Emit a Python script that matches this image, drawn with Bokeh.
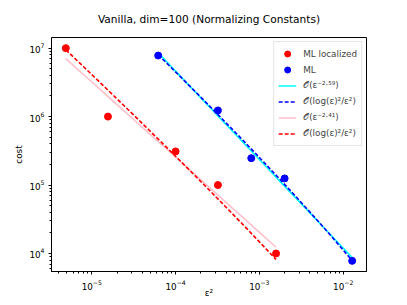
import numpy as np
from bokeh.plotting import figure
from bokeh.models import Range1d, Legend, LegendItem, Title
from bokeh.embed import file_html
from bokeh.resources import INLINE

# ---------------- data ----------------
title_text = "Vanilla, dim=100 (Normalizing Constants)"
x_label = "ε²"
y_label = "cost"

ml_loc_eps2 = [4.9e-6, 1.56e-5, 1.0e-4, 3.2e-4, 1.58e-3]
ml_loc_cost = [1.0e7, 1.0e6, 3.1e5, 1.0e5, 1.0e4]

ml_eps2 = [6.2e-5, 3.2e-4, 8.0e-4, 2.0e-3, 1.28e-2]
ml_cost = [7.8e6, 1.23e6, 2.47e5, 1.25e5, 7.8e3]

legend_labels = ["ML localized", "ML",
                 "𝒪(ε⁻²·⁵⁹)", "𝒪(log(ε)²/ε²)",
                 "𝒪(ε⁻²·⁴¹)", "𝒪(log(ε)²/ε²)"]


# ---------------- fits ----------------
def power_fit(x, y):
    lx, ly = np.log10(x), np.log10(y)
    m, b = np.polyfit(lx, ly, 1)
    xs = np.geomspace(min(x), max(x), 20)
    return xs, 10 ** (b + m * np.log10(xs))


def logsq_fit(x, y):
    x = np.asarray(x, float)
    f = lambda v: np.log(np.sqrt(v)) ** 2 / v
    c = np.mean(np.log10(y) - np.log10(f(x)))
    xs = np.geomspace(x.min(), x.max(), 60)
    return xs, 10 ** c * f(xs)


ml_px, ml_py = power_fit(ml_eps2, ml_cost)
ml_lx, ml_ly = logsq_fit(ml_eps2, ml_cost)
loc_px, loc_py = power_fit(ml_loc_eps2, ml_loc_cost)
loc_lx, loc_ly = logsq_fit(ml_loc_eps2, ml_loc_cost)


def log_range(vals, frac=0.05):
    lv = np.log10(np.asarray(vals, float))
    lo, hi = lv.min(), lv.max()
    pad = frac * (hi - lo)
    return Range1d(10 ** (lo - pad), 10 ** (hi + pad))


x_rng = log_range(ml_loc_eps2 + ml_eps2)
y_rng = log_range(ml_loc_cost + ml_cost)

FONT = "DejaVu Sans"

p = figure(width=407, height=305, x_axis_type="log", y_axis_type="log",
           x_range=x_rng, y_range=y_rng, title=title_text,
           output_backend="svg", toolbar_location=None,
           min_border_left=51, min_border_right=41,
           min_border_top=37, min_border_bottom=34)

p.background_fill_color = "white"
p.border_fill_color = "white"
p.outline_line_color = "black"
p.outline_line_width = 1
p.outline_line_alpha = 1
p.xgrid.visible = False
p.ygrid.visible = False

p.title.align = "center"
p.title.text_font = FONT
p.title.text_font_size = "10.6px"
p.title.text_font_style = "normal"
p.title.text_color = "black"
p.title.standoff = 4

# empty spacer title above the real one
p.add_layout(Title(text=" ", text_font_size="8px", standoff=0), "above")

p.xaxis.axis_label = x_label
p.yaxis.axis_label = y_label
for ax in p.axis:
    ax.axis_line_color = "black"
    ax.major_tick_line_color = "black"
    ax.minor_tick_line_color = "black"
    ax.major_tick_out = 3
    ax.major_tick_in = 0
    ax.minor_tick_out = 2
    ax.minor_tick_in = 0
    ax.major_label_text_font = FONT
    ax.major_label_text_font_size = "8.8px"
    ax.major_label_text_color = "black"
    ax.axis_label_text_font = FONT
    ax.axis_label_text_font_size = "8.8px"
    ax.axis_label_text_font_style = "normal"
    ax.axis_label_text_color = "black"

p.xaxis.major_label_standoff = 5
p.xaxis.axis_label_standoff = -5
p.yaxis.major_label_standoff = 4
p.yaxis.axis_label_standoff = 2

# lines
r_cyan = p.line(ml_px, ml_py, line_color="cyan", line_width=1.6)
r_bdash = p.line(ml_lx, ml_ly, line_color="blue", line_width=1.6, line_dash="4 2")
r_pink = p.line(loc_px, loc_py, line_color="pink", line_width=1.6)
r_rdash = p.line(loc_lx, loc_ly, line_color="red", line_width=1.6, line_dash="4 2")

# points
r_red = p.scatter(ml_loc_eps2, ml_loc_cost, size=7, fill_color="red", line_color="red")
r_blue = p.scatter(ml_eps2, ml_cost, size=7, fill_color="blue", line_color="blue")

renderers = [r_red, r_blue, r_cyan, r_bdash, r_pink, r_rdash]
legend = Legend(items=[LegendItem(label=l, renderers=[r]) for l, r in zip(legend_labels, renderers)],
                location="top_right", margin=4, padding=4, spacing=1,
                glyph_width=18, glyph_height=15, label_height=15, label_standoff=7,
                label_text_font=FONT, label_text_font_size="8.8px",
                border_line_color="#cccccc", border_line_width=1,
                background_fill_color="white", background_fill_alpha=0.8)
p.add_layout(legend)

open("out.html", "w").write(file_html(p, INLINE))
